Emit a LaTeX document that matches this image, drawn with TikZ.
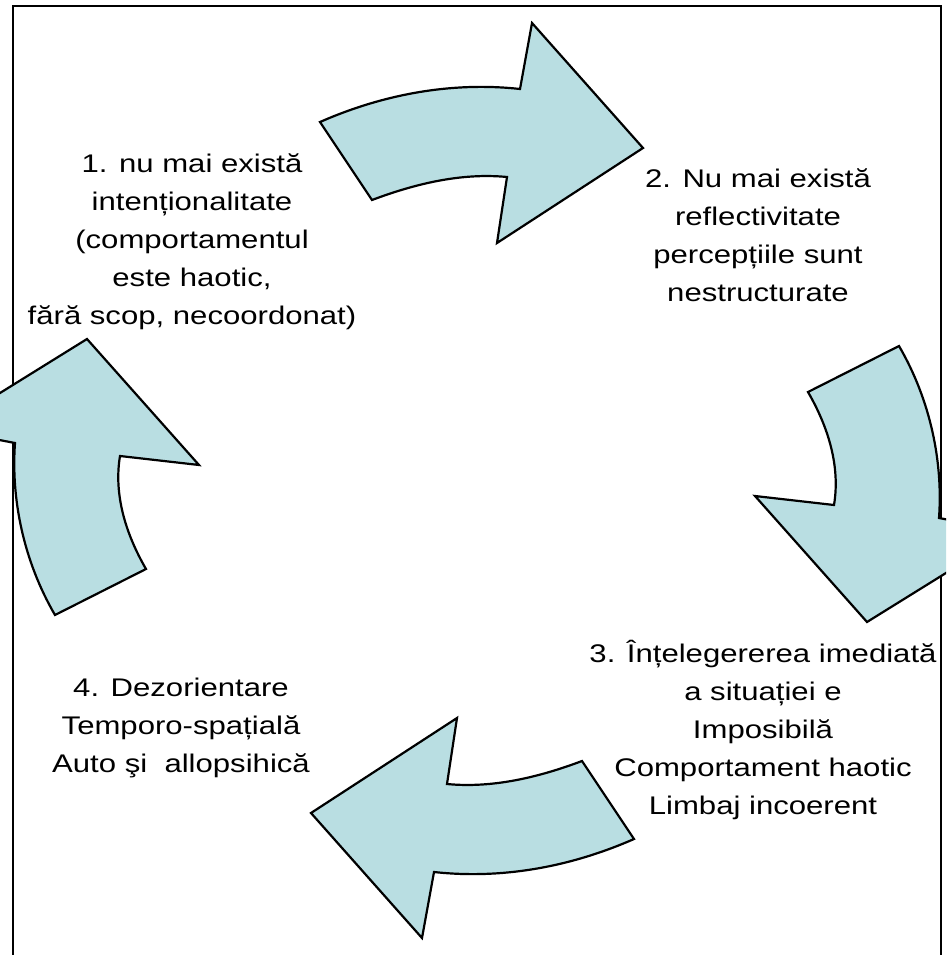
\documentclass[tikz,border=0pt]{standalone}
\usepackage{fontspec}
\setmainfont{Liberation Sans}[FakeStretch=1.22]
\definecolor{arrowfill}{RGB}{185,222,226}
\begin{document}
\begin{tikzpicture}[x=1pt,y=-1pt,
  arrowshape/.style={fill=arrowfill, draw=black, line width=2.2pt, line join=miter},
  txt/.style={anchor=north, inner sep=0pt, align=center, font=\fontsize{25.5}{38}\selectfont}]
\useasboundingbox (0,0) rectangle (946,955);
\clip (0,0) rectangle (946,955);
\draw[line width=2.5pt] (13,6) rectangle (941,980);
% arrow 1 (top, pointing right)
\path[arrowshape] (320,122) .. controls (383,94.3) and (451.6,81.5) .. (520,89) -- (532,23) -- (643,148) -- (497,243) -- (507,177) .. controls (461.2,172.6) and (415.1,183.8) .. (372,200) -- cycle;
% arrow 2 (right, pointing down)
\path[arrowshape] (899,346) .. controls (931,401) and (943,463) .. (939,518) -- (1012,532) -- (867,622) -- (755,496) -- (834,505) .. controls (840.5,466) and (828,426.6) .. (808,392) -- cycle;
% arrow 3 (bottom, pointing left)
\path[arrowshape] (634,839) .. controls (571,866.7) and (502.4,879.5) .. (434,872) -- (422,938) -- (311,813) -- (457,718) -- (447,784) .. controls (492.8,788.4) and (538.9,777.2) .. (582,761) -- cycle;
% arrow 4 (left, pointing up)
\path[arrowshape] (55,615) .. controls (23,560) and (11,498) .. (15,443) -- (-58,429) -- (87,339) -- (199,465) -- (120,456) .. controls (113.5,495) and (126,534.4) .. (146,569) -- cycle;
% texts
\node[txt] (t1) at (192,145.4) {\strut 1. nu mai există\\intenționalitate\\(comportamentul\\este haotic,\\fără scop, necoordonat)};
\node[txt] (t2) at (758,160.4) {\strut 2. Nu mai există\\reflectivitate\\percepțiile sunt\\nestructurate};
\node[txt] (t3) at (763,635.4) {\strut 3. Înțelegererea imediată\\a situației e\\Imposibilă\\Comportament haotic\\Limbaj incoerent};
\node[txt] (t4) at (181,669.4) {\strut 4. Dezorientare\\Temporo-spațială\\Auto şi\ \ allopsihică};
\end{tikzpicture}
\end{document}
